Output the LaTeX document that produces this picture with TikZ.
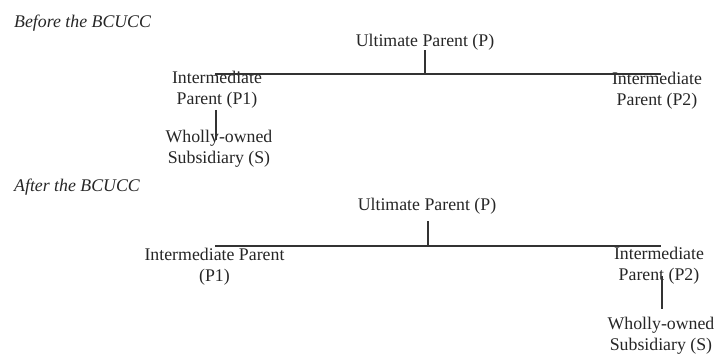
\documentclass[tikz,border=0pt]{standalone}
\usepackage{fontspec}
\setmainfont{Liberation Serif}
\begin{document}
\begin{tikzpicture}[x=1pt,y=-1pt,
  lbl/.style={inner sep=0pt, align=center, font=\fontsize{17.8}{21}\selectfont, text=black!85},
  ttl/.style={inner sep=0pt, anchor=west, font=\fontsize{17.8}{21}\selectfont\itshape, text=black!85},
  conn/.style={draw=black!80, line width=1.4pt}]
\useasboundingbox (0,0) rectangle (716,354);
% Before
\node[ttl] (t1) at (14,23) {Before the BCUCC};
\node[lbl] (P) at (425,42) {Ultimate Parent (P)};
\node[lbl] (P1) at (217,90) {Intermediate\\Parent (P1)};
\node[lbl] (P2) at (657,91) {Intermediate\\Parent (P2)};
\node[lbl] (S) at (219,148.5) {Wholly-owned\\Subsidiary (S)};
\coordinate (bL) at (215,74);
\coordinate (bR) at (661,74);
\coordinate (sTop) at ([yshift=-10pt]S.north);
\coordinate (p1Bot) at ([xshift=-1pt,yshift=-1pt]P1.south);
\draw[conn] (bL) -- (bR);
\draw[conn] (P.south) -- (P.south |- bL);
\draw[conn] (p1Bot) -- (p1Bot |- sTop);
% After
\node[ttl] (t2) at (14,187) {After the BCUCC};
\node[lbl] (Q) at (427,206) {Ultimate Parent (P)};
\node[lbl] (Q1) at (214.5,267) {Intermediate Parent\\(P1)};
\node[lbl] (Q2) at (659,265.5) {Intermediate\\Parent (P2)};
\node[lbl] (T) at (661,336) {Wholly-owned\\Subsidiary (S)};
\coordinate (cL) at (215,246);
\coordinate (cR) at (661,246);
\coordinate (qBot) at ([xshift=1pt,yshift=-7pt]Q.south);
\coordinate (q2Mid) at ([xshift=3pt,yshift=8pt]Q2.south);
\coordinate (tTop) at ([yshift=8.5pt]T.north);
\draw[conn] (cL) -- (cR);
\draw[conn] (qBot) -- (qBot |- cL);
\draw[conn] (q2Mid) -- (q2Mid |- tTop);
\end{tikzpicture}
\end{document}
